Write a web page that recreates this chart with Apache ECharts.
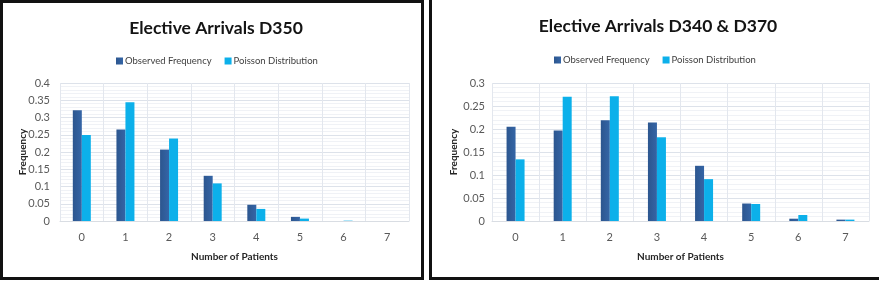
<!DOCTYPE html>
<html>
<head>
<meta charset="utf-8">
<script src="https://cdn.jsdelivr.net/npm/echarts@6/dist/echarts.min.js"></script>
<style>
  html, body { margin: 0; padding: 0; background: #fff; }
  body { width: 879px; height: 282px; position: relative; overflow: hidden; }
  .chart { position: absolute; top: 0; height: 282px; }
  .frame { position: absolute; border: 3px solid #111; box-sizing: border-box; pointer-events: none; }
</style>
</head>
<body>
<div id="chart-d350" class="chart" style="left:0;width:426px;"></div>
<div id="chart-d340" class="chart" style="left:426px;width:453px;"></div>
<div class="frame" style="left:0;top:0;width:424px;height:280px;"></div>
<div class="frame" style="left:429px;top:-4px;width:460px;height:284px;"></div>
<script>
const patients = ['0', '1', '2', '3', '4', '5', '6', '7'];
const seriesNames = ['Observed Frequency', 'Poisson Distribution'];

const d350Observed = [0.321, 0.265, 0.207, 0.131, 0.047, 0.012, 0, 0];
const d350Poisson = [0.249, 0.344, 0.239, 0.109, 0.035, 0.007, 0.001, 0];

const d340Observed = [0.205, 0.197, 0.219, 0.214, 0.12, 0.038, 0.005, 0.003];
const d340Poisson = [0.134, 0.27, 0.271, 0.182, 0.091, 0.037, 0.013, 0.003];

const FONT = 'Lato, "Open Sans", sans-serif';

function buildOption(cfg) {
  return {
    animation: false,
    textStyle: { fontFamily: FONT },
    title: {
      text: cfg.title,
      left: cfg.titleX, top: cfg.titleTop,
      textAlign: 'center',
      textStyle: { fontFamily: FONT, fontSize: 17.5, fontWeight: 'bold', color: '#141414' }
    },
    legend: {
      data: seriesNames,
      left: cfg.legendX, top: cfg.legendTop,
      itemWidth: 7, itemHeight: 7, itemGap: 13,
      icon: 'rect',
      textStyle: { fontFamily: FONT, fontSize: 9.5, color: '#404040', padding: [0, 0, 0, -3] }
    },
    grid: { left: cfg.gridLeft, right: cfg.gridRight, top: 83, bottom: 61 },
    xAxis: {
      type: 'category',
      data: patients,
      name: 'Number of Patients',
      nameLocation: 'middle',
      nameGap: 31,
      nameMoveOverlap: false,
      nameTextStyle: { fontFamily: FONT, fontSize: 10, fontWeight: 'bold', color: '#262626' },
      axisLine: { lineStyle: { color: '#d9dde3' } },
      axisTick: { show: false },
      axisLabel: { fontSize: 11, color: '#595959', margin: 11 },
      splitLine: { show: true, lineStyle: { color: '#e3e7ee' } }
    },
    yAxis: {
      type: 'value',
      min: 0, max: cfg.yMax, interval: 0.05,
      name: 'Frequency',
      nameLocation: 'middle',
      nameGap: cfg.yNameGap,
      nameMoveOverlap: false,
      nameTextStyle: { fontFamily: FONT, fontSize: 10, fontWeight: 'bold', color: '#262626' },
      axisLine: { show: false },
      axisTick: { show: false },
      axisLabel: { fontSize: 11, color: '#595959', margin: cfg.yLabelMargin },
      splitLine: { lineStyle: { color: '#dde2ea' } },
      minorTick: { show: false, splitNumber: 5 },
      minorSplitLine: { show: true, lineStyle: { color: '#f0f2f6' } }
    },
    series: [
      {
        name: seriesNames[0],
        type: 'bar',
        data: cfg.observed,
        barWidth: 9,
        barGap: '0%',
        itemStyle: {
          color: new echarts.graphic.LinearGradient(0, 0, 1, 0, [
            { offset: 0, color: '#2c568f' },
            { offset: 1, color: '#3565a6' }
          ])
        }
      },
      {
        name: seriesNames[1],
        type: 'bar',
        data: cfg.poisson,
        barWidth: 9,
        itemStyle: { color: '#0cb0ea' }
      }
    ]
  };
}

const chartD350 = echarts.init(document.getElementById('chart-d350'));
chartD350.setOption(buildOption({
  title: 'Elective Arrivals D350',
  titleX: 211, titleTop: 14,
  legendX: 111, legendTop: 51,
  gridLeft: 60, gridRight: 17,
  yMax: 0.4, yLabelMargin: 10, yNameGap: 32,
  observed: d350Observed,
  poisson: d350Poisson
}));

const chartD340 = echarts.init(document.getElementById('chart-d340'));
chartD340.setOption(buildOption({
  title: 'Elective Arrivals D340 & D370',
  titleX: 227, titleTop: 12,
  legendX: 123, legendTop: 50,
  gridLeft: 66, gridRight: 10,
  yMax: 0.3, yLabelMargin: 7, yNameGap: 33,
  observed: d340Observed,
  poisson: d340Poisson
}));
</script>
</body>
</html>
